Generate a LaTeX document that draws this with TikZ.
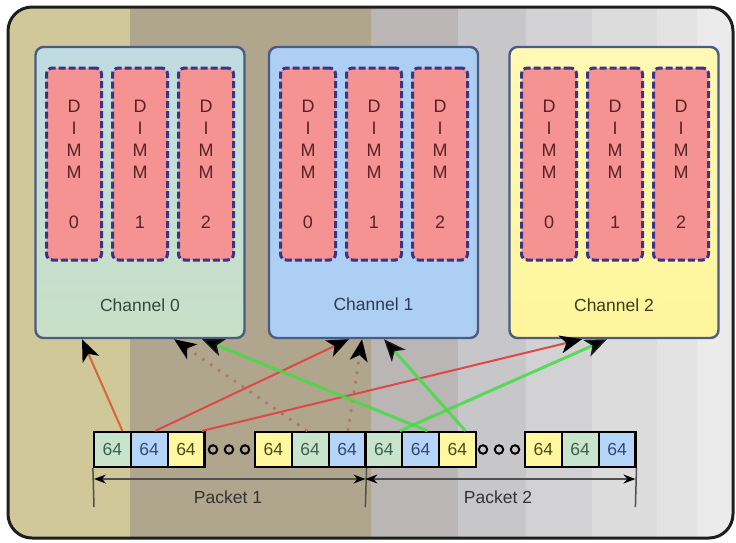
\documentclass[tikz,border=0pt]{standalone}
\usepackage{fontspec}
\setmainfont{Liberation Sans}
\usetikzlibrary{arrows.meta,calc}

% background bands
\definecolor{bandA}{HTML}{D0C898}
\definecolor{bandB}{HTML}{B0A58D}
\definecolor{bandC}{HTML}{BAB6B6}
\definecolor{bandD}{HTML}{C7C6C8}
\definecolor{bandE}{HTML}{D2D2D4}
\definecolor{bandF}{HTML}{DCDCDC}
\definecolor{bandG}{HTML}{E3E3E3}
\definecolor{bandH}{HTML}{EBEBEB}
\definecolor{frameline}{HTML}{1E1E1E}
% channel boxes
\definecolor{chedge}{HTML}{4A5C84}
\definecolor{chAtop}{HTML}{C0DCE2}
\definecolor{chAbot}{HTML}{C8E0C6}
\definecolor{chB}{HTML}{AECFF4}
\definecolor{chCtop}{HTML}{FFF9B4}
\definecolor{chCbot}{HTML}{FFF59C}
\definecolor{chAtext}{HTML}{34483C}
\definecolor{chBtext}{HTML}{2E3A58}
\definecolor{chCtext}{HTML}{3E3C14}
% memory modules
\definecolor{dimmfill}{HTML}{F59393}
\definecolor{dimmedge}{HTML}{383488}
\definecolor{dimmtext}{HTML}{5A2222}
% packet cells
\definecolor{cellG}{HTML}{C8E4CC}
\definecolor{cellB}{HTML}{B4D4F8}
\definecolor{cellY}{HTML}{FFF8A0}
\definecolor{txtG}{HTML}{3A6050}
\definecolor{txtB}{HTML}{304878}
\definecolor{txtY}{HTML}{4A4A14}
% connectors
\definecolor{lnOrange}{HTML}{D06838}
\definecolor{lnRed}{HTML}{E04848}
\definecolor{lnGreen}{HTML}{44DD44}
\definecolor{lnDot}{HTML}{A87868}
\definecolor{dimgray}{HTML}{505050}

\begin{document}
\begin{tikzpicture}[x=1pt,y=-1pt,
  chanbox/.style={draw=chedge, line width=2.4pt, rounded corners=8pt,
    minimum width=209pt, minimum height=291pt, inner sep=0pt},
  chlabel/.style={font=\fontsize{17.5}{20}\selectfont, inner sep=0pt},
  dimm/.style={draw=dimmedge, fill=dimmfill, line width=3pt,
    dash pattern=on 7pt off 3pt, rounded corners=6pt,
    minimum width=55pt, minimum height=192pt, inner sep=0pt,
    align=center, text=dimmtext, font=\fontsize{18}{22}\selectfont},
  cell/.style={draw=black, line width=2.2pt, minimum width=36.8pt,
    minimum height=35pt, inner sep=0pt, font=\fontsize{17.5}{20}\selectfont},
  gcell/.style={cell, fill=cellG, text=txtG},
  bcell/.style={cell, fill=cellB, text=txtB},
  ycell/.style={cell, fill=cellY, text=txtY},
  gapdot/.style={circle, draw=black, line width=2pt, minimum size=8.5pt, inner sep=0pt},
  tip/.style={-{Stealth[length=22pt, width=18pt, inset=6pt, black]}},
  orangeline/.style={tip, draw=lnOrange, line width=2pt},
  redline/.style={tip, draw=lnRed, line width=2pt},
  greenline/.style={tip, draw=lnGreen, line width=3pt, draw opacity=0.85},
  dotline/.style={tip, draw=lnDot, line width=2.6pt, dash pattern=on 2.6pt off 7pt},
  tickline/.style={draw=dimgray, line width=1.5pt},
  dimline/.style={draw=dimgray, line width=1.5pt,
    {Stealth[length=12pt, width=9pt, black]}-{Stealth[length=12pt, width=9pt, black]}},
  pktlabel/.style={font=\fontsize{17.5}{20}\selectfont, text=black!80, inner sep=0pt}
]
\useasboundingbox (0,0) rectangle (736,542);

% shaded bands behind everything, cut to the rounded frame
\begin{scope}
  \clip[rounded corners=24pt] (8,7) rectangle (733,538);
  \fill[bandA] (0,0) rectangle (130,542);
  \fill[bandB] (130,0) rectangle (371,542);
  \fill[bandC] (371,0) rectangle (458,542);
  \fill[bandD] (458,0) rectangle (526,542);
  \fill[bandE] (526,0) rectangle (592,542);
  \fill[bandF] (592,0) rectangle (657,542);
  \fill[bandG] (657,0) rectangle (697,542);
  \fill[bandH] (697,0) rectangle (736,542);
\end{scope}
\draw[frameline, line width=3pt, rounded corners=24pt] (8,7) rectangle (733,538);

% memory channels
\node[chanbox, top color=chAtop, bottom color=chAbot] (ch0) at (140,192.5) {};
\node[chanbox, fill=chB] (ch1) at (373.5,192.5) {};
\node[chanbox, top color=chCtop, bottom color=chCbot] (ch2) at (614,192.5) {};

\node[chlabel, text=chAtext] (ch0l) at (140,305) {Channel 0};
\node[chlabel, text=chBtext] (ch1l) at (373.5,304) {Channel 1};
\node[chlabel, text=chCtext] (ch2l) at (614,305) {Channel 2};

% DIMMs in each channel
\foreach \c/\cx in {0/140, 1/374, 2/615} {
  \node[dimm] (d\c a) at (\cx-66,164) {D\\I\\M\\M\\[28pt]0};
  \node[dimm] (d\c b) at (\cx,164)    {D\\I\\M\\M\\[28pt]1};
  \node[dimm] (d\c c) at (\cx+66,164) {D\\I\\M\\M\\[28pt]2};
}

% packet cells
\node[gcell] (c1)  at (112.4,449.5) {64};
\node[bcell] (c2)  at (149.2,449.5) {64};
\node[ycell] (c3)  at (186.0,449.5) {64};
\node[ycell] (c4)  at (273.4,449.5) {64};
\node[gcell] (c5)  at (310.2,449.5) {64};
\node[bcell] (c6)  at (347.0,449.5) {64};
\node[gcell] (c7)  at (383.8,449.5) {64};
\node[bcell] (c8)  at (420.6,449.5) {64};
\node[ycell] (c9)  at (457.4,449.5) {64};
\node[ycell] (c10) at (543.4,449.5) {64};
\node[gcell] (c11) at (580.2,449.5) {64};
\node[bcell] (c12) at (617.0,449.5) {64};

% elided cells
\node[gapdot] (g1) at (213,449.5) {};
\node[gapdot] (g2) at (229,449.5) {};
\node[gapdot] (g3) at (245,449.5) {};
\node[gapdot] (g4) at (483,449.5) {};
\node[gapdot] (g5) at (499,449.5) {};
\node[gapdot] (g6) at (515,449.5) {};

% cell-to-channel connectors
\draw[dotline] ([xshift=-3pt]c5.north) -- ([xshift=34pt]ch0.south);
\draw[dotline] ([xshift=1pt]c6.north) -- ([xshift=-11.5pt]ch1.south);
\draw[orangeline] ([xshift=10pt]c1.north) -- ([xshift=-58pt]ch0.south);
\draw[redline] ([xshift=6pt]c2.north) -- ([xshift=-24.5pt]ch1.south);
\draw[redline] ([xshift=16pt]c3.north) -- ([xshift=-32pt]ch2.south);
\draw[greenline] ([xshift=7pt]c8.north) -- ([xshift=62pt]ch0.south);
\draw[greenline] ([xshift=8pt]c9.north) -- ([xshift=10.5pt]ch1.south);
\draw[greenline] ([xshift=16pt]c7.north) -- ([xshift=-7pt]ch2.south);

% packet extents
\coordinate (t0) at (94,507);
\coordinate (t1) at (365.4,507);
\coordinate (t2) at (635.4,507);
\coordinate (m0) at (94,479);
\coordinate (m1) at (365.4,479);
\coordinate (m2) at (635.4,479);
\draw[tickline] (c1.south west) -- (t0);
\draw[tickline] (c6.south east) -- (t1);
\draw[tickline] (c12.south east) -- (t2);
\draw[dimline] (m0) -- (m1);
\draw[dimline] (m1) -- (m2);
\node[pktlabel] (pk1) at (228,497) {Packet 1};
\node[pktlabel] (pk2) at (498,497) {Packet 2};
\end{tikzpicture}
\end{document}
